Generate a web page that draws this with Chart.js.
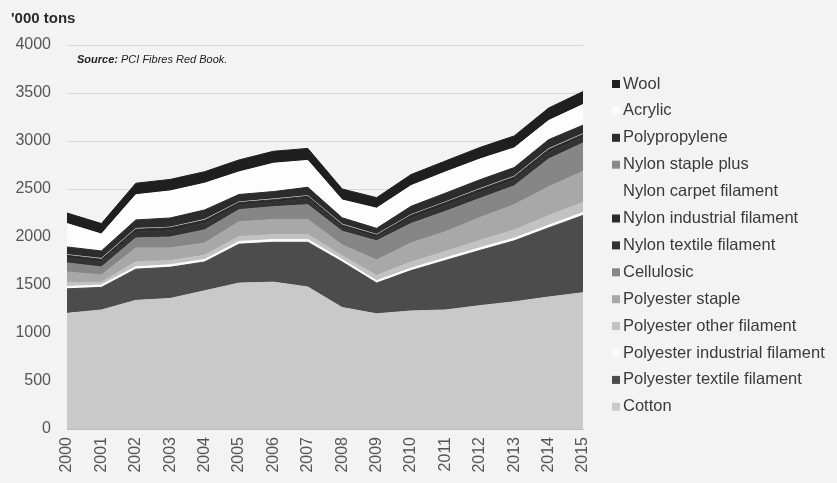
<!DOCTYPE html>
<html>
<head>
<meta charset="utf-8">
<script src="https://cdn.jsdelivr.net/npm/chart.js@4.4.1/dist/chart.umd.min.js"></script>
<style>
  html, body { margin: 0; padding: 0; background: #f3f3f3; }
</style>
</head>
<body>
<canvas id="chart" width="837" height="483"></canvas>
<script>
const years = ["2000", "2001", "2002", "2003", "2004", "2005", "2006", "2007",
  "2008", "2009", "2010", "2011", "2012", "2013", "2014", "2015"];

// '000 tons (stack order: bottom to top)
const cotton = [1205, 1240, 1340, 1360, 1440, 1520, 1530, 1480, 1265, 1200, 1230, 1240, 1285, 1325, 1375, 1420];
const polyTextileFil = [255, 235, 325, 325, 300, 405, 415, 465, 475, 320, 420, 515, 575, 635, 720, 805];
const polyIndustrialFil = [25, 25, 25, 25, 25, 28, 28, 28, 25, 25, 25, 27, 27, 28, 28, 30];
const polyOtherFil = [40, 28, 50, 45, 45, 52, 52, 52, 40, 55, 65, 68, 78, 85, 100, 105];
const polyStaple = [111, 77, 146, 131, 128, 155, 156, 156, 112, 160, 198, 205, 237, 264, 300, 323];
const cellulosic = [94, 83, 104, 114, 136, 125, 135, 156, 143, 200, 202, 212, 200, 196, 290, 297];
const nylonTextileFil = [54, 55, 61, 64, 68, 49, 48, 58, 43, 40, 58, 62, 63, 62, 67, 60];
const nylonIndustrialFil = [25, 25, 30, 32, 33, 25, 25, 29, 22, 20, 28, 30, 31, 30, 32, 29];
const nylonCarpetFil = [6, 6, 6, 6, 6, 6, 6, 6, 6, 6, 6, 6, 6, 6, 6, 6];
const nylonStaplePlus = [6, 6, 6, 6, 6, 6, 6, 6, 6, 6, 6, 6, 6, 6, 6, 6];
const polypropylene = [75, 75, 85, 90, 95, 72, 72, 82, 63, 58, 82, 86, 88, 86, 90, 84];
const acrylic = [244, 175, 262, 282, 278, 235, 295, 280, 185, 210, 215, 220, 216, 205, 199, 215];
const wool = [110, 110, 120, 120, 120, 125, 125, 125, 115, 110, 115, 115, 120, 125, 130, 135];

const yTicks = [0, 500, 1000, 1500, 2000, 2500, 3000, 3500, 4000];

const FONT = "'Liberation Sans', Arial, sans-serif";

const layers = [
  ["Cotton", cotton, "#c9c9c9"],
  ["Polyester textile filament", polyTextileFil, "#4c4c4c"],
  ["Polyester industrial filament", polyIndustrialFil, "#fbfbfb"],
  ["Polyester other filament", polyOtherFil, "#c2c2c2"],
  ["Polyester staple", polyStaple, "#a8a8a8"],
  ["Cellulosic", cellulosic, "#868686"],
  ["Nylon textile filament", nylonTextileFil, "#333333"],
  ["Nylon industrial filament", nylonIndustrialFil, "#2a2a2a"],
  ["Nylon carpet filament", nylonCarpetFil, "#f6f6f6"],
  ["Nylon staple plus", nylonStaplePlus, "#8a8a8a"],
  ["Polypropylene", polypropylene, "#2c2c2c"],
  ["Acrylic", acrylic, "#fdfdfd"],
  ["Wool", wool, "#1f1f1f"],
];

// the two hairline nylon layers get no outline, so they stay thin
const thinLayers = ["Nylon carpet filament", "Nylon staple plus"];

// legend column on the right + source note inside the plot
const sideNotes = {
  id: "sideNotes",
  afterDraw(chart) {
    const ctx = chart.ctx;
    const sets = chart.data.datasets;
    ctx.save();
    ctx.textBaseline = "middle";
    ctx.font = "16.5px " + FONT;
    for (let k = 0; k < sets.length; k++) {
      const ds = sets[sets.length - 1 - k];
      const y = 84 + k * 26.9;
      ctx.fillStyle = ds.backgroundColor;
      ctx.fillRect(612, y - 4, 8, 8);
      ctx.fillStyle = "#3a3a3a";
      ctx.fillText(ds.label, 623, y);
    }

    ctx.fillStyle = "#222";
    ctx.font = "bold italic 11px " + FONT;
    ctx.fillText("Source:", 77, 60);
    const w = ctx.measureText("Source:").width;
    ctx.font = "italic 11px " + FONT;
    ctx.fillText(" PCI Fibres Red Book.", 77 + w, 60);
    ctx.restore();
  },
};

new Chart(document.getElementById("chart"), {
  type: "line",
  data: {
    labels: years,
    datasets: layers.map(([label, data, color], i) => ({
      label,
      data,
      backgroundColor: color,
      borderColor: color,
      borderWidth: thinLayers.includes(label) ? 0 : 1,
      pointRadius: 0,
      tension: 0,
      fill: i === 0 ? "origin" : "-1",
    })),
  },
  options: {
    responsive: false,
    animation: false,
    layout: { padding: { left: 11, right: 254, top: 0, bottom: 0 } },
    plugins: {
      legend: { display: false },
      tooltip: { enabled: false },
      title: {
        display: true,
        text: "'000 tons",
        align: "start",
        color: "#2a2a2a",
        font: { family: FONT, size: 15, weight: "bold" },
        padding: { top: 10, bottom: 17 },
      },
    },
    scales: {
      x: {
        offset: false,
        grid: { display: false, drawTicks: false },
        border: { display: true, color: "#bdbdbd" },
        ticks: {
          color: "#555",
          font: { family: FONT, size: 16 },
          minRotation: 90,
          maxRotation: 90,
          autoSkip: false,
          padding: 8,
        },
        afterFit(scale) {
          scale.height = 54;
        },
      },
      y: {
        stacked: true,
        min: 0,
        max: 4000,
        afterBuildTicks(scale) {
          scale.ticks = yTicks.map((v) => ({ value: v }));
        },
        grid: { color: "#d8d8d8", drawTicks: false },
        border: { display: false },
        ticks: {
          color: "#555",
          font: { family: FONT, size: 16 },
          padding: 16,
          callback: (v) => String(v),
        },
        afterFit(scale) {
          scale.width = 56;
        },
      },
    },
  },
  plugins: [sideNotes],
});
</script>
</body>
</html>
